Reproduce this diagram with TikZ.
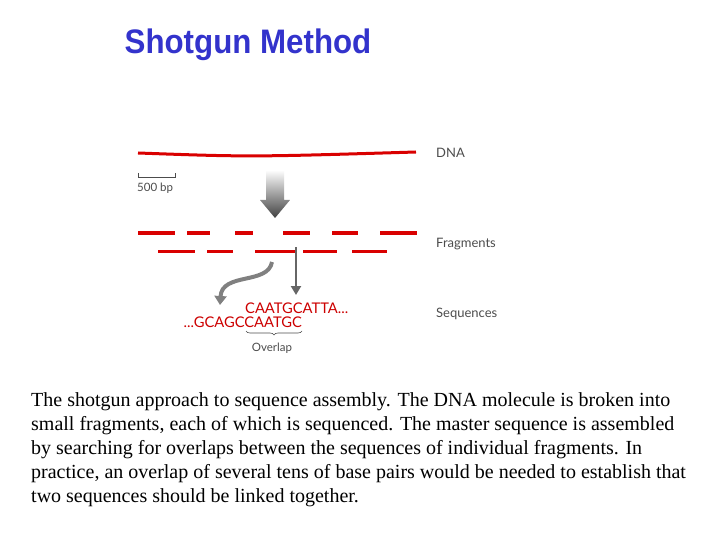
\documentclass[tikz,border=0pt]{standalone}
\usepackage{fontspec}
\setmainfont{Liberation Serif}
\newfontfamily\labelfont{Lato}
\newfontfamily\titlefont{Liberation Sans}
\usetikzlibrary{decorations.pathreplacing,arrows.meta}
\definecolor{titleblue}{RGB}{51,51,204}
\tikzset{strand/.style={draw=red!85!black, line width=3pt},
  annot/.style={font=\labelfont\fontsize{13}{15}\selectfont, text=black!70, anchor=west, inner sep=0pt},
  seq/.style={font=\labelfont\fontsize{14.7}{16}\selectfont, text=red!80!black, inner sep=0pt},
  caption/.style={font=\fontsize{20}{24}\selectfont, anchor=base west, inner sep=0pt}}
\begin{document}
\begin{tikzpicture}[x=1pt,y=-1pt]
	\useasboundingbox (0,0) rectangle (720,540);

	\node[font=\titlefont\bfseries\fontsize{34}{40}\selectfont, text=titleblue, xscale=0.92] (title) at (248,45) {Shotgun Method};

	% dna and scale bar
	\draw[strand] (138,153) .. controls (250,157) .. (416,152);
	\draw[black!70, thin] (138,173) -- (138,177) -- (175,177) -- (175,173);
	\node[annot, font=\labelfont\fontsize{11.5}{13}\selectfont] (scale) at (137,188) {500 bp};

	% big arrow
	\shade[top color=white, bottom color=black!75] (266,170) -- (284,170) -- (284,200) -- (290,200) -- (275,218) -- (260,200) -- (266,200) -- cycle;

	% fragments
	\foreach \a/\b in {138/175, 187/210, 235/253, 283/310, 332/358, 380/417}
		\draw[strand] (\a,233) -- (\b,233);
	\foreach \a/\b in {158/195, 207/233, 255/297, 303/337, 352/387}
		\draw[strand] (\a,251) -- (\b,251);

	% sequences
	\node[seq, anchor=west] (seqa) at (245,308) {CAATGCATTA...};
	\node[seq, anchor=east] (seqb) at (302,322) {...GCAGCCAATGC};
	\coordinate (ta) at (296,247);
	\coordinate (ha) at (296,295);
	\coordinate (tb) at (272,262);
	\coordinate (hb) at (220,305);
	\draw[black!60, line width=2.5pt, -{Triangle[width=10pt,length=9pt]}] (ta) -- (ha);
	\draw[black!50, line width=4pt, -{Triangle[width=12pt,length=9pt]}] (tb) .. controls (268,285) and (222,272) .. (hb);
	\draw[black!70, semithick, decorate, decoration={brace, mirror, amplitude=4pt}] (246,331) -- (302,331);
	\node[annot, anchor=center, font=\labelfont\fontsize{11.5}{13}\selectfont] (overlap) at (272,348) {Overlap};

	% labels
	\node[annot] (dna) at (436,153) {DNA};
	\node[annot] (frag) at (436,244) {Fragments};
	\node[annot] (seqs) at (436,314) {Sequences};

	% caption
	\node[caption] (l1) at (31,406) {The shotgun approach to sequence assembly. The DNA molecule is broken into};
	\node[caption] (l2) at (31,430) {small fragments, each of which is sequenced. The master sequence is assembled};
	\node[caption] (l3) at (31,454) {by searching for overlaps between the sequences of individual fragments. In};
	\node[caption] (l4) at (31,478) {practice, an overlap of several tens of base pairs would be needed to establish that};
	\node[caption] (l5) at (31,502) {two sequences should be linked together.};
\end{tikzpicture}
\end{document}
